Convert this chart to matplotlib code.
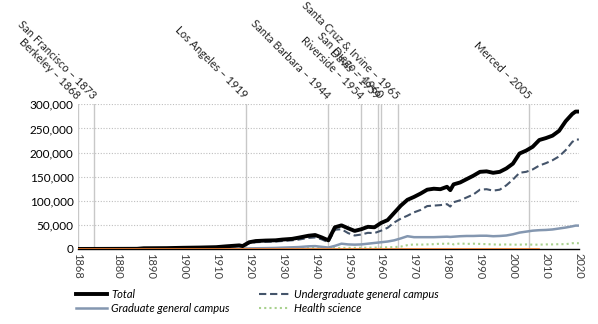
import matplotlib.pyplot as plt
from matplotlib.transforms import blended_transform_factory

# Enrollment by year (approximate headcount)
years = [1868, 1875, 1880, 1886, 1888, 1895, 1900, 1905, 1910, 1913, 1915, 1917, 1918,
         1920, 1922, 1925, 1928, 1930, 1933, 1935, 1938, 1940, 1942, 1944, 1946, 1948,
         1950, 1952, 1954, 1956, 1958, 1960, 1962, 1964, 1966, 1968, 1970, 1972, 1974,
         1976, 1978, 1980, 1981, 1982, 1984, 1986, 1988, 1990, 1992, 1994, 1996, 1998,
         2000, 2002, 2004, 2006, 2008, 2010, 2012, 2014, 2016, 2018, 2019, 2020]

total = [100, 200, 300, 400, 1500, 1800, 2500, 3000, 3800, 5500, 6500, 7500, 6000,
         14000, 16500, 17500, 18000, 19500, 21000, 23500, 27500, 29000, 24000, 18000, 45000, 49000,
         43000, 37500, 41000, 46000, 45000, 54000, 60000, 75000, 90000, 102000, 108000, 115000, 123000,
         125000, 124000, 129000, 122000, 134000, 138000, 145000, 152000, 160000, 161000, 158000, 160000, 167000,
         177000, 198000, 204000, 212000, 226000, 230000, 235000, 245000, 265000, 280000, 285000, 285000]

undergrad = [100, 200, 300, 400, 1400, 1700, 2300, 2700, 3300, 4800, 5600, 6500, 5000,
             12000, 14000, 15000, 15500, 16500, 18000, 19500, 23000, 24000, 20000, 14000, 40000, 41000,
             33000, 28000, 30000, 33500, 33000, 38000, 44000, 55000, 63000, 69000, 76000, 81000, 89000,
             90000, 91000, 93000, 88000, 97000, 101000, 107000, 113000, 123000, 124000, 121000, 123000, 132000,
             144000, 158000, 160000, 165000, 173000, 178000, 184000, 192000, 205000, 222000, 227000, 227000]

graduate = [0, 0, 0, 50, 100, 150, 200, 300, 400, 600, 800, 900, 800,
            1200, 1500, 1800, 2200, 2800, 3500, 4000, 5500, 6000, 4500, 3000, 6500, 11000,
            9500, 9000, 9500, 11000, 12500, 14000, 15500, 18000, 22000, 26500, 24500, 24500, 24500,
            24500, 25000, 25500, 25000, 25500, 26500, 27000, 27000, 27500, 27500, 26500, 27000, 28000,
            30500, 34000, 36000, 38000, 39000, 39500, 40500, 42500, 44500, 47000, 48500, 48500]

health = [100, 150, 200, 300, 400, 500, 600, 700, 800, 900, 1000, 1000, 1000,
          1200, 1300, 1400, 1500, 1600, 1700, 1800, 1900, 2000, 2000, 1800, 2000, 2200,
          2300, 2400, 2500, 2700, 2900, 3200, 3500, 4000, 5000, 8000, 9500, 9000, 9500,
          10000, 11000, 10500, 12000, 9500, 11500, 10500, 11000, 10500, 10000, 9500, 9000, 9500,
          9000, 9000, 9500, 9000, 9000, 9500, 9500, 10000, 10000, 12000, 12000, 12000]

other_years = [1868, 2008]
other = [0, 0]

campuses = ["Berkeley \u2013 1868", "San Francisco \u2013 1873", "Los Angeles \u2013 1919",
            "Santa Barbara \u2013 1944", "Riverside \u2013 1954", "Davis \u2013 1959",
            "San Diego \u2013 1960", "Santa Cruz & Irvine \u2013 1965", "Merced \u2013 2005"]
campus_years = [1868, 1873, 1919, 1944, 1954, 1959, 1960, 1965, 2005]

xticks = [1868, 1880, 1890, 1900, 1910, 1920, 1930, 1940, 1950, 1960, 1970, 1980,
          1990, 2000, 2010, 2020]
yticks = [0, 50000, 100000, 150000, 200000, 250000, 300000]

plt.rcParams['font.family'] = ['Lato', 'DejaVu Sans']

fig = plt.figure(figsize=(5.98, 3.24), dpi=100)
ax = fig.add_axes([0.130, 0.2315, 0.838, 0.4465])

for y in yticks[1:]:
    ax.axhline(y, color='#BFBFBF', lw=0.8, ls=(0, (1, 1.5)), zorder=0)
for yr in campus_years:
    ax.axvline(yr, color='#C8C8C8', lw=1, zorder=1)

ax.plot(years, total, color='black', lw=2.8, label='Total', zorder=6)
ax.plot(years, graduate, color='#8497B0', lw=1.8, label='Graduate general campus', zorder=4)
ax.plot(years, undergrad, color='#44546A', lw=1.5, ls=(0, (3.5, 1.8)),
        label='Undergraduate general campus', zorder=5)
ax.plot(years, health, color='#A9D18E', lw=1.5, ls=(0, (1, 1.5)), label='Health science', zorder=3)
ax.plot(other_years, other, color='#ED7D31', lw=1.2, zorder=7)

ax.set_xlim(1868, 2020)
ax.set_ylim(0, 300000)
ax.set_xticks(xticks)
ax.set_xticklabels([str(t) for t in xticks], rotation=270, fontsize=8, color='#404040')
ax.set_yticks(yticks)
ax.set_yticklabels([f'{v:,}' for v in yticks], fontsize=8.5, color='black')
ax.tick_params(length=0, pad=3)
for s in ['top', 'right', 'left']:
    ax.spines[s].set_visible(False)
ax.spines['bottom'].set_color('black')
ax.spines['bottom'].set_linewidth(1)

# founding year labels above the plot
trans = blended_transform_factory(ax.transData, ax.transAxes)
for name, yr in zip(campuses, campus_years):
    ax.text(yr, 1.05, name, transform=trans, rotation=-45, rotation_mode='anchor',
            ha='right', va='center', fontsize=8, color='#262626')

# legend fills column by column: Total/Graduate, then Undergraduate/Health
fig.legend(loc='lower left', bbox_to_anchor=(0.11, 0.0), ncol=2, frameon=False,
           prop={'style': 'italic', 'size': 8}, handlelength=2.8, columnspacing=2.6,
           labelspacing=0.25, handletextpad=0.4)

fig.savefig('out.png', dpi=100)
